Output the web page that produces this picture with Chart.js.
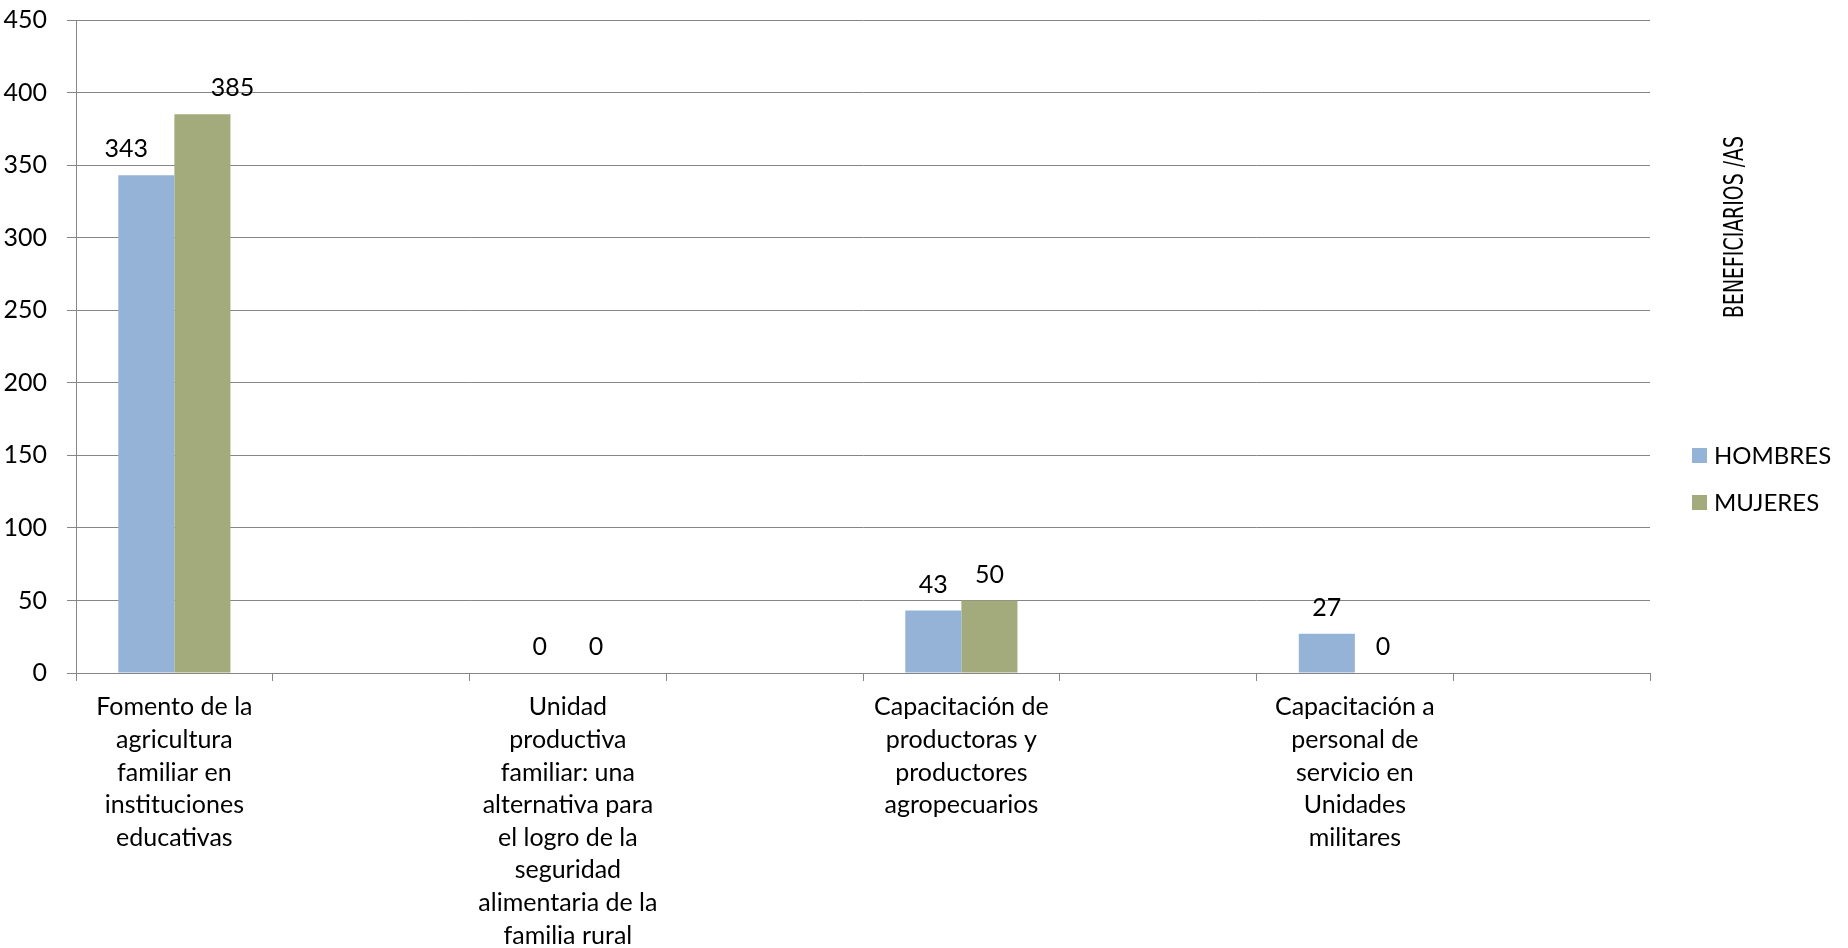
<!DOCTYPE html>
<html>
<head>
<meta charset="utf-8">
<script src="https://cdn.jsdelivr.net/npm/chart.js@4"></script>
<style>
  body { margin: 0; background: #fff; }
  #wrap { width: 1848px; height: 948px; }
</style>
</head>
<body>
<div id="wrap"><canvas id="beneficiariosChart"></canvas></div>
<script>
// categories (every other slot is empty, as in the original sheet)
const categories = [
  ['Fomento de la', 'agricultura', 'familiar en', 'instituciones', 'educativas'],
  '',
  ['Unidad', 'productiva', 'familiar: una', 'alternativa para', 'el logro de la', 'seguridad', 'alimentaria de la', 'familia rural'],
  '',
  ['Capacitación de', 'productoras y', 'productores', 'agropecuarios'],
  '',
  ['Capacitación a', 'personal de', 'servicio en', 'Unidades', 'militares'],
  ''
];

const hombres = [343, null, 0, null, 43, null, 27, null];
const mujeres = [385, null, 0, null, 50, null, 0, null];

const yTicks = [0, 50, 100, 150, 200, 250, 300, 350, 400, 450];
const axisTitle = 'BENEFICIARIOS /AS';

const FONT = 'Lato, "Open Sans", sans-serif';
const FSIZE = 25;
const GRID = '#868686';

// value labels above the bars
const valueLabels = {
  id: 'valueLabels',
  afterDatasetsDraw(chart, args, opts) {
    const ctx = chart.ctx;
    ctx.save();
    ctx.font = FSIZE + 'px ' + FONT;
    ctx.fillStyle = '#000';
    ctx.textAlign = 'center';
    ctx.textBaseline = 'middle';
    chart.data.datasets.forEach((ds, di) => {
      const meta = chart.getDatasetMeta(di);
      meta.data.forEach((bar, i) => {
        const v = ds.data[i];
        if (v === null) return;
        const shift = (opts.shift && opts.shift[di + '-' + i]) || 0;
        ctx.fillText(String(v), bar.x + shift, bar.y - 26);
      });
    });
    ctx.restore();
  }
};

// legend and rotated title on the right
const sideText = {
  id: 'sideText',
  afterDraw(chart) {
    const ctx = chart.ctx;
    const area = chart.chartArea;
    ctx.save();
    ctx.font = '24px ' + FONT;
    ctx.textBaseline = 'middle';
    ctx.textAlign = 'left';
    chart.data.datasets.forEach((ds, i) => {
      const y = 455 + i * 47;
      ctx.fillStyle = ds.backgroundColor;
      ctx.fillRect(area.right + 42, y - 7, 15, 15);
      ctx.fillStyle = '#000';
      ctx.fillText(ds.label, area.right + 64, y + 1);
    });
    // condensed title, squeezed to the width it has in the original
    ctx.translate(area.right + 86, 227);
    ctx.rotate(-Math.PI / 2);
    ctx.font = '26px "DejaVu Sans Condensed", "Liberation Sans Narrow", sans-serif';
    const w = ctx.measureText(axisTitle).width;
    ctx.scale(182 / w, 1);
    ctx.textAlign = 'center';
    ctx.fillText(axisTitle, 0, 0);
    ctx.restore();
  }
};

const ctx = document.getElementById('beneficiariosChart').getContext('2d');
new Chart(ctx, {
  type: 'bar',
  data: {
    labels: categories,
    datasets: [
      { label: 'HOMBRES', data: hombres, backgroundColor: '#95B3D7' },
      { label: 'MUJERES', data: mujeres, backgroundColor: '#A3AA7C' }
    ]
  },
  options: {
    responsive: true,
    maintainAspectRatio: false,
    animation: false,
    categoryPercentage: 0.57,
    barPercentage: 1,
    layout: { padding: { top: 20, right: 198, left: 0, bottom: 0 } },
    scales: {
      x: {
        grid: { offset: true, drawOnChartArea: false, color: GRID, tickLength: 8 },
        border: { color: GRID },
        ticks: {
          autoSkip: false, maxRotation: 0, minRotation: 0, padding: 10,
          color: '#000', font: { family: FONT, size: FSIZE, lineHeight: '32.6px' }
        },
        afterFit(scale) { scale.height = 275; }
      },
      y: {
        min: 0, max: 450,
        afterBuildTicks(scale) { scale.ticks = yTicks.map(v => ({ value: v })); },
        grid: { color: GRID, tickLength: 9 },
        border: { color: GRID },
        ticks: { padding: 20, color: '#000', font: { family: FONT, size: FSIZE } },
        afterFit(scale) {
          scale.width = 76;
          scale.paddingTop = 0;
          scale.paddingBottom = 0;
        }
      }
    },
    plugins: {
      legend: { display: false },
      tooltip: { enabled: false },
      valueLabels: { shift: { '0-0': -20, '1-0': 30 } }
    }
  },
  plugins: [valueLabels, sideText]
});
</script>
</body>
</html>
